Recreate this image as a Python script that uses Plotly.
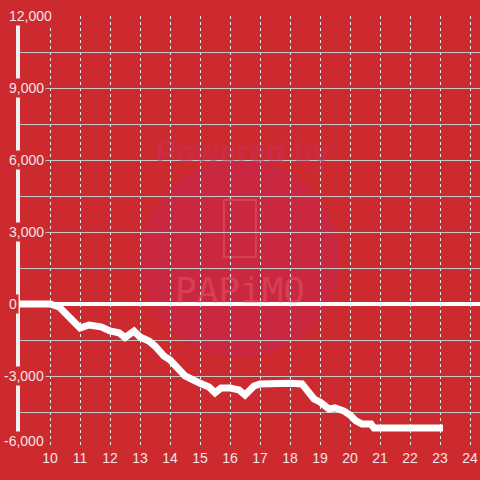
import plotly.graph_objects as go

# data
hours = [9.0, 10.0, 10.3, 10.5, 10.8, 11.0, 11.3, 11.7, 12.0, 12.3, 12.5, 12.8, 13.0, 13.3, 13.5,
         13.8, 14.0, 14.3, 14.5, 15.0, 15.3, 15.5, 15.7, 16.0, 16.3, 16.5, 16.8, 17.0, 17.3,
         18.0, 18.4, 18.6, 18.8, 19.0, 19.3, 19.5, 19.8, 20.0, 20.2, 20.4, 20.7, 20.8, 21.0, 23.1]
values = [0, 0, -120, -375, -800, -1000, -875, -950, -1125, -1200, -1400, -1125, -1375, -1540, -1750,
          -2170, -2330, -2800, -3000, -3300, -3460, -3700, -3500, -3500, -3580, -3790, -3420, -3330, -3300,
          -3300, -3330, -3620, -3960, -4080, -4375, -4330, -4460, -4625, -4870, -5000, -5000, -5170, -5170, -5170]
x_ticks = list(range(10, 25))
y_grid_step = 1500
y_label_vals = [12000, 9000, 6000, 3000, 0, -3000, -6000]
y_label_text = ["12,000", "9,000", "6,000", "3,000", "0", "-3,000", "-6,000"]

BG = "#cc2a2f"
TXT = "#f3e4e4"

fig = go.Figure()
fig.add_trace(go.Scatter(x=hours, y=values, mode="lines",
                         line=dict(color="white", width=7), hoverinfo="skip"))

fig.update_layout(
    width=480, height=480,
    margin=dict(l=20, r=0, t=16, b=32),
    paper_bgcolor=BG, plot_bgcolor=BG,
    showlegend=False,
    font=dict(family="Liberation Sans, Arial, sans-serif", size=14, color=TXT),
)
fig.update_xaxes(range=[9.0, 24.333], tickvals=x_ticks, ticktext=[str(v) for v in x_ticks],
                 showgrid=True, gridcolor="#eeeeee", gridwidth=1, griddash="dot",
                 zeroline=False, showline=False, ticks="",
                 tickfont=dict(size=14, color=TXT))
fig.update_yaxes(range=[-6000, 12000], dtick=y_grid_step, tick0=0,
                 showgrid=True, gridcolor="#c8c8c8", gridwidth=1.2,
                 zeroline=True, zerolinecolor="white", zerolinewidth=4,
                 showline=True, linecolor="#f0f0f0", linewidth=4,
                 showticklabels=False, ticks="")

# watermark
fig.add_shape(type="circle", xref="paper", yref="paper",
              x0=(140 - 20) / 460, x1=(340 - 20) / 460,
              y0=(448 - 357) / 432, y1=(448 - 160) / 432,
              fillcolor="rgba(200,38,80,0.55)", line=dict(width=0), layer="below")
fig.add_shape(type="rect", xref="paper", yref="paper",
              x0=(224 - 20) / 460, x1=(256 - 20) / 460,
              y0=(448 - 257) / 432, y1=(448 - 200) / 432,
              line=dict(color="rgba(235,110,120,0.35)", width=2), layer="below")
fig.add_annotation(text="<b>Powered by</b>", xref="paper", yref="paper",
                   x=(243 - 20) / 460, y=(448 - 133) / 432, showarrow=False,
                   font=dict(size=31, color="rgba(205,45,95,0.45)", family="Liberation Sans"))
fig.add_annotation(text="PAPiMO", xref="paper", yref="paper",
                   x=(240 - 20) / 460, y=(448 - 290) / 432, showarrow=False,
                   font=dict(size=36, color="rgba(235,110,120,0.35)", family="DejaVu Sans Mono"))

# y labels
for v, t in zip(y_label_vals, y_label_text):
    px_left = 2 if v < 0 else 7
    fig.add_annotation(text=t, xref="paper", yref="y", x=(px_left - 20) / 460, y=v,
                       xanchor="left", yanchor="middle", showarrow=False,
                       yshift=7 if v == -6000 else 0,
                       bgcolor=BG, borderpad=1,
                       font=dict(size=14, color=TXT))

fig.write_html("out.html", config={"displayModeBar": False},
               post_script="document.body.style.margin='0';document.body.style.padding='0';"
                           "document.documentElement.style.background='" + BG + "';")
